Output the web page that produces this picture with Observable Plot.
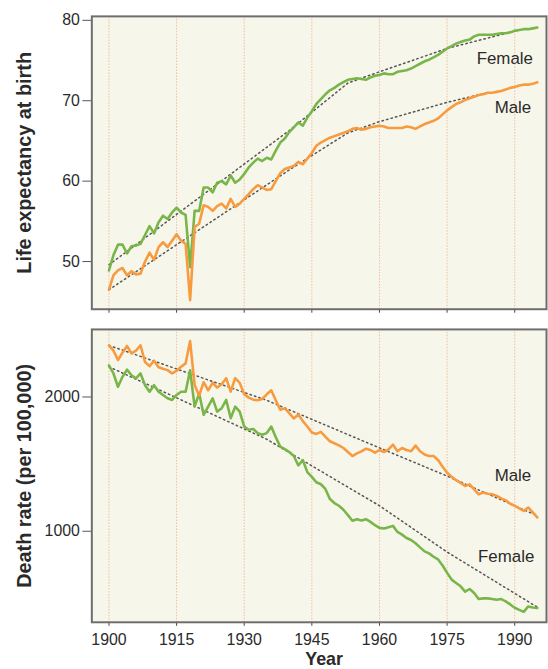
<!DOCTYPE html>
<html>
<head>
<meta charset="utf-8">
<script src="https://cdn.jsdelivr.net/npm/d3@7"></script>
<script src="https://cdn.jsdelivr.net/npm/@observablehq/plot@0.6"></script>
<style>
  html, body { margin: 0; padding: 0; background: #ffffff; overflow: hidden; width: 548px; height: 669px; }
  #wrap { position: relative; width: 548px; height: 669px; overflow: hidden; }
  #top { position: absolute; left: 0; top: 0; }
  #bottom { position: absolute; left: 0; top: 320px; }
</style>
</head>
<body>
<div id="wrap"><div id="top"></div><div id="bottom"></div></div>
<script>
// ---- data ----
const years = d3.range(1900, 1996);
const xTicks = [1900, 1915, 1930, 1945, 1960, 1975, 1990];
const leTicks = [50, 60, 70, 80];
const drTicks = [1000, 2000];

const femaleLE = [48.9,50.8,52.1,52.1,51.0,51.9,52.0,52.2,53.3,54.4,
  53.5,54.9,55.7,55.3,56.1,56.7,56.1,55.8,49.3,56.3,
  56.3,59.2,59.2,58.6,59.8,60.0,59.6,60.7,59.8,60.2,
  60.9,61.7,62.3,62.8,62.5,62.9,62.7,63.8,64.8,65.3,
  66.1,66.7,67.3,66.9,67.9,68.7,69.6,70.2,70.8,71.3,
  71.6,72.0,72.3,72.6,72.7,72.8,72.7,72.6,72.9,73.1,
  73.2,73.4,73.3,73.3,73.6,73.7,73.8,74.0,74.3,74.6,
  74.9,75.1,75.4,75.7,76.1,76.5,76.8,77.1,77.3,77.5,
  77.6,78.0,78.2,78.2,78.2,78.2,78.3,78.4,78.4,78.5,
  78.7,78.8,78.9,78.9,79.0,79.1];
const maleLE = [46.5,48.3,48.9,49.2,48.3,48.8,48.4,48.5,50.0,51.1,
  50.2,51.8,52.4,51.8,52.6,53.4,52.6,52.2,45.2,54.3,
  54.7,57.0,56.8,56.3,56.9,57.2,56.6,57.8,56.8,57.2,
  57.8,58.4,59.0,59.5,59.2,58.9,59.0,60.0,61.0,61.5,
  61.7,61.9,62.4,62.1,62.8,63.5,64.4,64.8,65.1,65.4,
  65.6,65.8,66.0,66.2,66.5,66.6,66.4,66.5,66.7,66.8,
  66.9,66.8,66.6,66.6,66.6,66.6,66.8,66.7,66.5,66.8,
  67.1,67.3,67.5,67.8,68.3,68.8,69.2,69.6,69.8,70.1,
  70.3,70.5,70.7,70.8,71.0,71.0,71.1,71.2,71.4,71.6,
  71.7,71.9,72.0,72.0,72.1,72.3];
const femaleDR = [2236,2175,2076,2150,2204,2162,2138,2175,2088,2039,
  2088,2039,2015,1990,1978,2015,2039,2039,2199,1928,
  2027,1867,1928,1990,1891,1916,1978,1842,1928,1891,
  1780,1756,1761,1731,1719,1731,1780,1700,1630,1612,
  1590,1560,1490,1530,1440,1405,1365,1350,1315,1240,
  1210,1190,1160,1120,1078,1090,1080,1090,1070,1045,
  1025,1020,1030,1040,995,975,950,935,910,880,
  850,835,810,790,745,690,640,615,590,550,
  570,540,495,500,500,495,490,495,478,455,
  430,415,400,440,432,428];
const maleDR = [2384,2345,2275,2330,2380,2325,2345,2385,2260,2230,
  2270,2222,2210,2200,2175,2195,2225,2250,2416,2090,
  2010,2110,2050,2105,2070,2095,2140,2040,2140,2105,
  2020,1995,1980,1975,1985,2020,2050,1975,1905,1915,
  1880,1840,1870,1820,1780,1735,1725,1740,1705,1670,
  1655,1640,1620,1590,1560,1580,1595,1615,1605,1585,
  1605,1590,1610,1645,1596,1620,1605,1596,1638,1596,
  1571,1560,1560,1530,1480,1436,1405,1380,1360,1337,
  1349,1312,1275,1288,1280,1275,1263,1245,1230,1205,
  1190,1170,1152,1177,1140,1103];

// fitted trend lines (dotted)
const femaleLETrendYears = [1900, 1940, 1953, 1960, 1975, 1991];
const femaleLETrend = [49.6, 66.3, 72.2, 73.6, 76.5, 78.8];
const maleLETrendYears = [1900, 1940, 1953, 1960, 1975, 1984];
const maleLETrend = [46.5, 61.4, 66.0, 67.4, 69.8, 71.0];
const femaleDRTrendYears = [1900, 1935, 1960, 1975, 1995];
const femaleDRTrend = [2225, 1685, 1190, 845, 435];
const maleDRTrendYears = [1900, 1935, 1960, 1975, 1995];
const maleDRTrend = [2384, 1975, 1621, 1411, 1116];

const seriesNames = ["Female", "Male"];
const leLabelYears = [1987.8, 1989.6];
const leLabelValues = [75.3, 69.1];
const drLabelYears = [1988.1, 1989.6];
const drLabelValues = [808, 1411];

const leTitle = "Life expectancy at birth";
const drTitle = "Death rate (per 100,000)";
const xTitle = "Year";

// ---- build tables ----
const green = "#79b649", orange = "#f89a3e";
const toRows = (xs, ys) => xs.map((x, i) => ({x, y: ys[i]}));
const fLE = toRows(years, femaleLE), mLE = toRows(years, maleLE);
const fDR = toRows(years, femaleDR), mDR = toRows(years, maleDR);
const fLEt = toRows(femaleLETrendYears, femaleLETrend), mLEt = toRows(maleLETrendYears, maleLETrend);
const fDRt = toRows(femaleDRTrendYears, femaleDRTrend), mDRt = toRows(maleDRTrendYears, maleDRTrend);
const leLabels = seriesNames.map((s, i) => ({s, x: leLabelYears[i], y: leLabelValues[i]}));
const drLabels = seriesNames.map((s, i) => ({s, x: drLabelYears[i], y: drLabelValues[i]}));

const font = "'Liberation Sans', Arial, Helvetica, sans-serif";
const xDomain = [1896.2, 1997.05];
const panelFill = "#f7f6eb";
const gridColor = "#f1bd9f";
const frameColor = "#6d6d6d";
const textColor = "#2a2a2a";
const dotted = {stroke: "#555", strokeWidth: 1.5, strokeDasharray: "1.5,3.2"};

const topPlot = Plot.plot({
  width: 552, height: 320,
  marginLeft: 92, marginRight: 2, marginTop: 16, marginBottom: 9,
  x: {domain: xDomain},
  y: {domain: [44.07, 80.49]},
  style: {fontFamily: font, background: "transparent", color: textColor, overflow: "visible"},
  marks: [
    Plot.frame({fill: panelFill, stroke: "none"}),
    Plot.ruleX(xTicks, {stroke: gridColor, strokeWidth: 1, strokeDasharray: "1.5,1.5"}),
    Plot.line(fLEt, {x: "x", y: "y", ...dotted}),
    Plot.line(mLEt, {x: "x", y: "y", ...dotted}),
    Plot.line(fLE, {x: "x", y: "y", stroke: green, strokeWidth: 2.6, strokeLinejoin: "round"}),
    Plot.line(mLE, {x: "x", y: "y", stroke: orange, strokeWidth: 2.6, strokeLinejoin: "round"}),
    Plot.text(leLabels, {x: "x", y: "y", text: "s", fontSize: 17, fill: textColor}),
    Plot.axisY(leTicks, {tickSize: 9, tickPadding: 3, fontSize: 16, label: null, stroke: "#555", fill: textColor}),
    Plot.axisX(xTicks, {tickSize: 4, tickFormat: () => "", label: null, stroke: "#444"}),
    Plot.frame({stroke: frameColor, strokeWidth: 2}),
    Plot.text([leTitle], {frameAnchor: "left", rotate: -90, dx: -68, textAnchor: "middle", lineAnchor: "middle", fontWeight: "bold", fontSize: 20, fill: textColor})
  ]
});

const bottomPlot = Plot.plot({
  width: 552, height: 349,
  marginLeft: 92, marginRight: 2, marginTop: 9, marginBottom: 45,
  x: {domain: xDomain},
  y: {domain: [322, 2503]},
  style: {fontFamily: font, background: "transparent", color: textColor, overflow: "visible"},
  marks: [
    Plot.frame({fill: panelFill, stroke: "none"}),
    Plot.ruleX(xTicks, {stroke: gridColor, strokeWidth: 1, strokeDasharray: "1.5,1.5"}),
    Plot.line(fDRt, {x: "x", y: "y", ...dotted}),
    Plot.line(mDRt, {x: "x", y: "y", ...dotted}),
    Plot.line(fDR, {x: "x", y: "y", stroke: green, strokeWidth: 2.6, strokeLinejoin: "round"}),
    Plot.line(mDR, {x: "x", y: "y", stroke: orange, strokeWidth: 2.6, strokeLinejoin: "round"}),
    Plot.text(drLabels, {x: "x", y: "y", text: "s", fontSize: 17, fill: textColor}),
    Plot.axisY(drTicks, {tickSize: 9, tickPadding: 3, fontSize: 16, tickFormat: "d", label: null, stroke: "#555", fill: textColor}),
    Plot.axisX(xTicks, {tickSize: 4, tickPadding: 8, fontSize: 16, tickFormat: "d", label: null, stroke: "#444", fill: textColor}),
    Plot.frame({stroke: frameColor, strokeWidth: 2}),
    Plot.text([drTitle], {frameAnchor: "left", rotate: -90, dx: -68, textAnchor: "middle", lineAnchor: "middle", fontWeight: "bold", fontSize: 20, fill: textColor}),
    Plot.text([xTitle], {frameAnchor: "bottom", dy: 43, dx: 5, lineAnchor: "bottom", fontWeight: "bold", fontSize: 18, fill: textColor})
  ]
});

document.getElementById("top").appendChild(topPlot);
document.getElementById("bottom").appendChild(bottomPlot);
</script>
</body>
</html>
